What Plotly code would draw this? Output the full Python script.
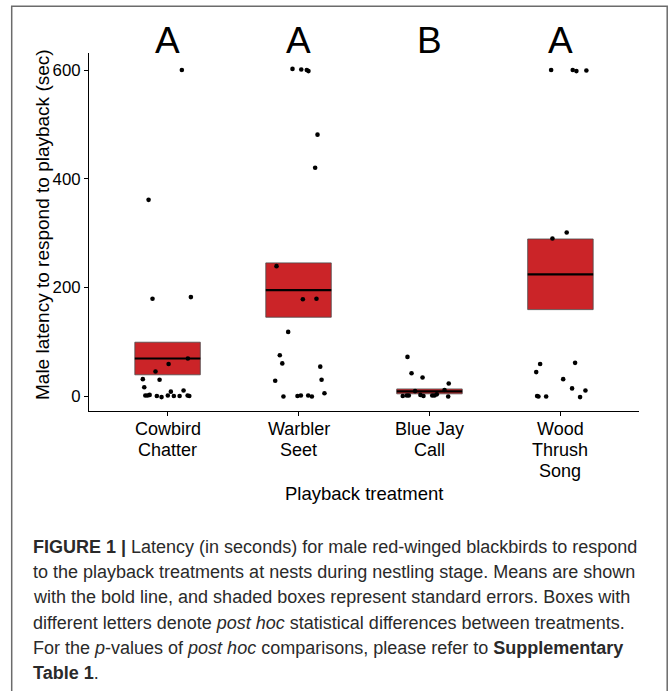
import plotly.graph_objects as go

# Treatments, post hoc groupings and summary statistics (seconds)
categories = ["Cowbird Chatter", "Warbler Seet", "Blue Jay Call", "Wood Thrush Song"]
tick_lines = [["Cowbird", "Chatter"], ["Warbler", "Seet"], ["Blue Jay", "Call"], ["Wood", "Thrush", "Song"]]
group_letters = ["A", "A", "B", "A"]
means = [69, 195, 8.5, 224]
std_errors = [30, 50, 4.5, 65]

# Individual male latencies (sec) with the horizontal jitter applied to each dot
cowbird_latency = [600, 361, 179, 182, 69, 59, 45, 31, 30, 16, 1, 1, 2, 0, -2, 1, 8, 0, 0, 10, 1, 0]
cowbird_jitter = [0.109, -0.145, -0.115, 0.178, 0.155, 0.008, -0.092, -0.189, -0.061, -0.178, -0.170,
                  -0.153, -0.137, -0.082, -0.046, 0.002, 0.025, 0.048, 0.092, 0.122, 0.153, 0.166]

warbler_latency = [602, 601, 600, 598, 481, 420, 239, 178, 179, 118, 75, 60, 54, 28, 30, 5, -1, 0, 1, 1, -1]
warbler_jitter = [-0.046, 0.021, 0.063, 0.076, 0.145, 0.127, -0.168, 0.033, 0.137, -0.079, -0.143,
                  -0.124, 0.166, -0.178, 0.176, 0.198, -0.115, -0.008, 0.018, 0.074, 0.102]

bluejay_latency = [72, 42, 34, 23, 0, 1, 1, 2, 0, 1, 1, 3, -1, 9, 11]
bluejay_jitter = [-0.168, -0.137, -0.053, 0.147, -0.204, -0.173, -0.158, -0.069, -0.046, 0.021,
                  0.038, 0.056, 0.143, -0.110, 0.115]

woodthrush_latency = [600, 600, 598, 599, 301, 290, 61, 59, 44, 31, 14, 10, 0, -1, -1, -2]
woodthrush_jitter = [-0.071, 0.094, 0.122, 0.198, 0.048, -0.061, 0.112, -0.155, -0.185, 0.021,
                     0.089, 0.191, -0.178, -0.168, -0.109, 0.150]

latencies = [cowbird_latency, warbler_latency, bluejay_latency, woodthrush_latency]
jitters = [cowbird_jitter, warbler_jitter, bluejay_jitter, woodthrush_jitter]

y_ticks = [0, 200, 400, 600]

# ---- geometry of the page (pixels) ----
W, H = 670, 691
L, R, T, B = 89, 639, 53, 411
BOX_WIDTH = 0.5


def px_x(px):
    return (px - L) / (R - L)


def px_y(py):
    return (B - py) / (B - T)


positions = list(range(1, len(categories) + 1))
AXIS_FONT = "Liberation Sans, Arial, sans-serif"

fig = go.Figure()

# standard-error boxes
fig.add_trace(go.Bar(
    x=positions,
    y=[2 * se for se in std_errors],
    base=[m - se for m, se in zip(means, std_errors)],
    width=BOX_WIDTH,
    marker=dict(color="#CB2428", line=dict(color="#4a4a4a", width=0.8)),
    hoverinfo="skip",
    showlegend=False,
))

# mean lines
mx, my = [], []
for p, m in zip(positions, means):
    mx += [p - BOX_WIDTH / 2, p + BOX_WIDTH / 2, None]
    my += [m, m, None]
fig.add_trace(go.Scatter(x=mx, y=my, mode="lines", line=dict(color="black", width=2.2),
                         showlegend=False, hoverinfo="skip"))

# jittered individual responses
px_all, py_all = [], []
for p, vals, jit in zip(positions, latencies, jitters):
    px_all += [p + j for j in jit]
    py_all += vals
fig.add_trace(go.Scatter(x=px_all, y=py_all, mode="markers",
                         marker=dict(color="black", size=4.6, line=dict(width=0)),
                         showlegend=False))

annotations = []

# post hoc letters
for p, letter in zip(positions, group_letters):
    annotations.append(dict(x=p, y=px_y(41), xref="x", yref="paper", text=letter, showarrow=False,
                            xanchor="center", yanchor="middle",
                            font=dict(family=AXIS_FONT, size=37, color="black")))

# category labels, one line at a time
line_y = [428.6, 450.0, 471.4]
for p, lines in zip(positions, tick_lines):
    for k, line in enumerate(lines):
        annotations.append(dict(x=p, y=px_y(line_y[k]), xref="x", yref="paper", text=line,
                                showarrow=False, xanchor="center", yanchor="middle",
                                font=dict(family=AXIS_FONT, size=18, color="black")))

# axis titles
annotations.append(dict(x=px_x(364), y=px_y(493), xref="paper", yref="paper", text="Playback treatment",
                        showarrow=False, xanchor="center", yanchor="middle",
                        font=dict(family=AXIS_FONT, size=18.5, color="black")))
annotations.append(dict(x=px_x(42.5), y=px_y(224.5), xref="paper", yref="paper",
                        text="Male latency to respond to playback (sec)", textangle=-90,
                        showarrow=False, xanchor="center", yanchor="middle",
                        font=dict(family=AXIS_FONT, size=19, color="black")))

# figure caption
caption = [
    "<b>FIGURE 1 |</b> Latency (in seconds) for male red-winged blackbirds to respond",
    "to the playback treatments at nests during nestling stage. Means are shown",
    "with the bold line, and shaded boxes represent standard errors. Boxes with",
    "different letters denote <i>post hoc</i> statistical differences between treatments.",
    "For the <i>p</i>-values of <i>post hoc</i> comparisons, please refer to <b>Supplementary</b>",
    "<b>Table 1</b>.",
]
for k, line in enumerate(caption):
    annotations.append(dict(x=px_x(31), y=px_y(547 + 25.2 * k), xref="paper", yref="paper", text=line,
                            showarrow=False, xanchor="left", yanchor="middle",
                            font=dict(family=AXIS_FONT, size=18, color="#2a2a2a")))

# outer frame of the figure panel
frame = dict(type="rect", xref="paper", yref="paper",
             x0=px_x(11.7), x1=px_x(667.2), y0=px_y(700), y1=px_y(6.2),
             line=dict(color="#6b6b6b", width=1.5), fillcolor="rgba(0,0,0,0)", layer="below")

fig.update_layout(
    width=W, height=H,
    margin=dict(l=L, r=W - R, t=T, b=H - B, pad=0),
    paper_bgcolor="white", plot_bgcolor="white",
    barmode="overlay",
    annotations=annotations,
    shapes=[frame],
    font=dict(family=AXIS_FONT, color="black"),
    xaxis=dict(range=[0.4, 4.6], tickvals=positions, ticktext=[""] * len(positions),
               showline=True, linecolor="black", linewidth=1.1, ticks="outside", ticklen=4,
               tickcolor="black", tickwidth=1, showgrid=False, zeroline=False, fixedrange=True),
    yaxis=dict(range=[-27.6, 631.3], tickvals=y_ticks, ticktext=[str(v) for v in y_ticks],
               showline=True, linecolor="black", linewidth=1.1, ticks="outside", ticklen=4,
               tickcolor="black", tickwidth=1, showgrid=False, zeroline=False,
               tickfont=dict(size=16.8, color="black"), fixedrange=True),
)

fig.write_html("out.html")
